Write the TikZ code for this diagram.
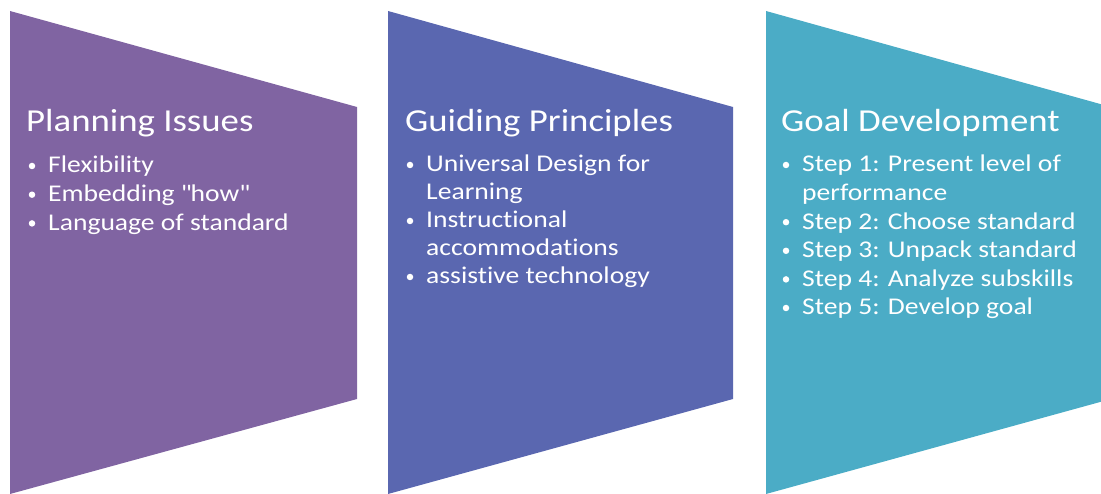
\documentclass[tikz,border=0pt]{standalone}
\usepackage{fontspec}
\setmainfont{Carlito}[FakeStretch=1.15,Ligatures={NoCommon}]
\usetikzlibrary{positioning}
\definecolor{planpurple}{HTML}{8064A2}
\definecolor{guideblue}{HTML}{5A67B0}
\definecolor{goalteal}{HTML}{4BACC6}
\tikzset{
	heading/.style={anchor=base west,inner sep=0pt,text=white,font=\fontsize{32}{36}\selectfont},
	itemtext/.style={anchor=base west,inner sep=0pt,text=white,font=\fontsize{24}{28}\selectfont},
	itemdot/.style={circle,fill=white,inner sep=0pt,minimum size=6.5pt},
}

\begin{document}
\begin{tikzpicture}[x=1pt,y=-1pt]
		\useasboundingbox (0,0) rectangle (1101,494);
		% the three panels
		\fill[planpurple] (10,11) -- (357,107) -- (357,399) -- (10,494) -- cycle;
		\fill[guideblue] (388,11) -- (733,107) -- (733,399) -- (388,494) -- cycle;
		\begin{scope}
			\clip (0,0) rectangle (1101,494);
			\fill[goalteal] (766,11) -- (1111,107) -- (1111,399) -- (766,494) -- cycle;
		\end{scope}
		% headings
		\node(plan) [heading] at (26,132) {Planning Issues};
		\node(guide) [heading] at (405,132) {Guiding Principles};
		\node(goal) [heading] at (781,132) {Goal Development};
		% bullet lists (line, bullet?, text)
		\foreach \ln/\b/\txt [count=\i] in {0/1/Flexibility, 1/1/Embedding \textquotedbl how\textquotedbl, 2/1/Language of standard}
		{
			\node(plan\i) [itemtext] at (48,{173+\ln*28.7}) {\txt};
			\ifnum\b=1 \node(plandot\i) [itemdot] at ([xshift=-16pt,yshift=7pt]plan\i.base west) {};\fi
		}
		\foreach \ln/\b/\txt [count=\i] in {0/1/Universal Design for, 1/0/Learning, 2/1/Instructional, 3/0/accommodations, 4/1/assistive technology}
		{
			\node(guide\i) [itemtext] at (426,{172+\ln*28}) {\txt};
			\ifnum\b=1 \node(guidedot\i) [itemdot] at ([xshift=-16pt,yshift=7pt]guide\i.base west) {};\fi
		}
		\foreach \ln/\b/\txt [count=\i] in {0/1/Step 1: Present level of, 1/0/performance, 2/1/Step 2: Choose standard, 3/1/Step 3: Unpack standard, 4/1/Step 4: Analyze subskills, 5/1/Step 5: Develop goal}
		{
			\node(goal\i) [itemtext] at (802,{172+\ln*28.6}) {\txt};
			\ifnum\b=1 \node(goaldot\i) [itemdot] at ([xshift=-16pt,yshift=7pt]goal\i.base west) {};\fi
		}
	\end{tikzpicture}
\end{document}
